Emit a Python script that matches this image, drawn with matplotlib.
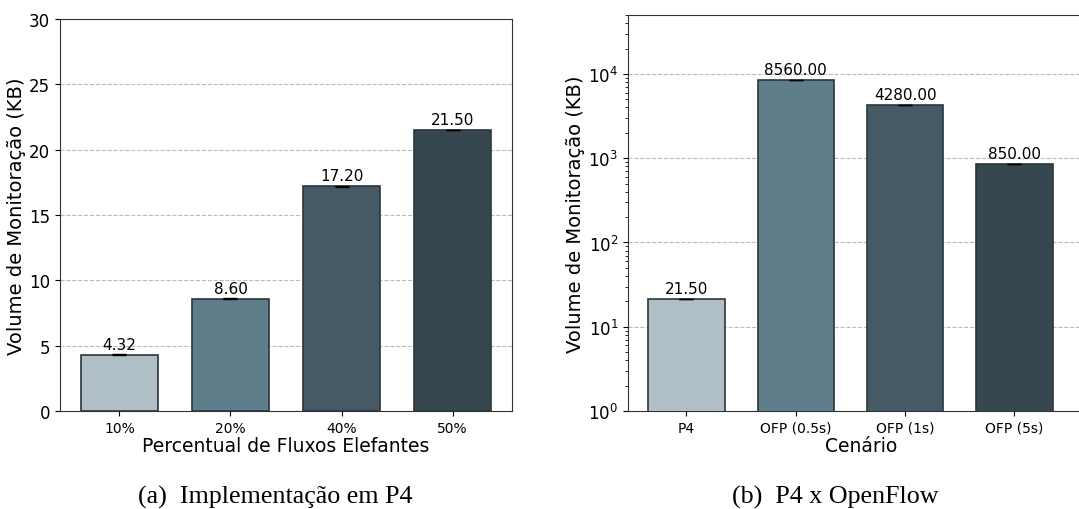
import numpy as np
import matplotlib.pyplot as plt

# (a) Implementacao em P4
percentuais = ['10%', '20%', '40%', '50%']
volume_p4 = [4.32, 8.60, 17.20, 21.50]
erro_p4 = [0.03, 0.03, 0.03, 0.03]

# (b) P4 x OpenFlow
cenarios = ['P4', 'OFP (0.5s)', 'OFP (1s)', 'OFP (5s)']
volume_cenarios = [21.50, 8560.00, 4280.00, 850.00]
erro_cenarios = [0.1, 20.0, 10.0, 2.0]

cores = ['#b0bec5', '#607d8b', '#455a64', '#37474f']

W, H = 1079, 510
fig = plt.figure(figsize=(W / 100, H / 100), dpi=100)


def px_axes(x0, y0, x1, y1):
    # axes position given in pixel coords (top-left origin)
    return fig.add_axes([x0 / W, 1 - y1 / H, (x1 - x0) / W, (y1 - y0) / H])


def draw_bars(ax, labels, values, errs, fmt='{:.2f}'):
    x = np.arange(len(labels))
    bars = ax.bar(x, values, width=0.7, color=cores, edgecolor='#2b363c',
                  linewidth=1.2, yerr=errs, capsize=5,
                  error_kw=dict(ecolor='black', elinewidth=1, capthick=1), zorder=3)
    for b, v in zip(bars, values):
        ax.annotate(fmt.format(v), (b.get_x() + b.get_width() / 2, v),
                    xytext=(0, 2), textcoords='offset points',
                    ha='center', va='bottom', fontsize=11)
    ax.set_xticks(x)
    ax.set_xticklabels(labels, fontsize=10)
    ax.tick_params(axis='y', labelsize=12)
    ax.yaxis.grid(True, linestyle='--', color='#bbbbbb', linewidth=0.8, zorder=0)
    ax.set_axisbelow(True)
    for s in ax.spines.values():
        s.set_color('#333333')
    return bars


# left panel
ax1 = px_axes(60, 20, 512, 412)
draw_bars(ax1, percentuais, volume_p4, erro_p4)
ax1.set_ylim(0, 30)
ax1.set_xlim(-0.535, 3.535)
ax1.set_ylabel('Volume de Monitoração (KB)', fontsize=14, labelpad=2)
ax1.set_xlabel('Percentual de Fluxos Elefantes', fontsize=13.5, labelpad=1)

# right panel (extends past the right border, as in the original crop)
ax2 = px_axes(628, 16, 1095, 412)
ax2.set_yscale('log')
draw_bars(ax2, cenarios, volume_cenarios, erro_cenarios)
ax2.set_ylim(1, 5e4)
ax2.set_xlim(-0.535, -0.535 + (1095 - 628) / 109.3)
ax2.set_ylabel('Volume de Monitoração (KB)', fontsize=14, labelpad=2)
ax2.set_xlabel('Cenário', fontsize=13.5, labelpad=1)

# subcaptions
fig.text(275 / W, 1 - 497 / H, '(a)  Implementação em P4', ha='center', va='center',
         fontsize=18.7, family='Liberation Serif')
fig.text(835 / W, 1 - 497 / H, '(b)  P4 x OpenFlow', ha='center', va='center',
         fontsize=18.7, family='Liberation Serif')

fig.savefig('out.png', dpi=100)
